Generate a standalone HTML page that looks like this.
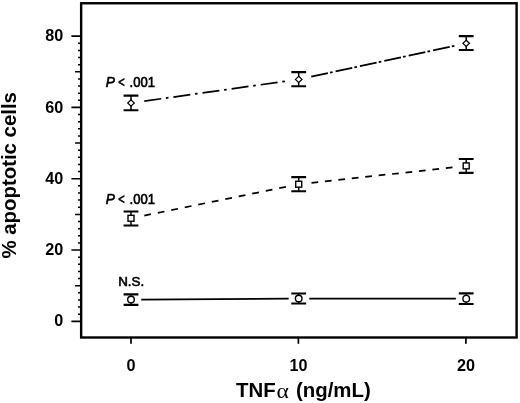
<!DOCTYPE html>
<html><head><meta charset="utf-8">
<style>
html,body{margin:0;padding:0;background:#fff;}
body{width:520px;height:403px;overflow:hidden;}
svg{display:block;filter:grayscale(1);}
text{font-family:"Liberation Sans",sans-serif;fill:#000;}
.tk{font-size:16.2px;font-weight:bold;}
.ax{font-size:20.4px;font-weight:bold;}
.an{font-size:13.8px;stroke:#000;stroke-width:0.6px;}
</style></head>
<body>
<svg width="520" height="403" viewBox="0 0 520 403">
<rect x="81.15" y="3.25" width="435.45" height="334.25" fill="none" stroke="#000" stroke-width="2.4"/>
<path d="M71.4 321.30H81.15 M71.4 250.02H81.15 M71.4 178.74H81.15 M71.4 107.46H81.15 M71.4 36.18H81.15 " stroke="#000" stroke-width="1.7" fill="none"/>
<path d="M78.05 314.17H81.15 M78.05 307.04H81.15 M78.05 299.92H81.15 M78.05 292.79H81.15 M75.05 285.66H81.15 M78.05 278.53H81.15 M78.05 271.40H81.15 M78.05 264.28H81.15 M78.05 257.15H81.15 M78.05 242.89H81.15 M78.05 235.76H81.15 M78.05 228.64H81.15 M78.05 221.51H81.15 M75.05 214.38H81.15 M78.05 207.25H81.15 M78.05 200.12H81.15 M78.05 193.00H81.15 M78.05 185.87H81.15 M78.05 171.61H81.15 M78.05 164.48H81.15 M78.05 157.36H81.15 M78.05 150.23H81.15 M75.05 143.10H81.15 M78.05 135.97H81.15 M78.05 128.84H81.15 M78.05 121.72H81.15 M78.05 114.59H81.15 M78.05 100.33H81.15 M78.05 93.20H81.15 M78.05 86.08H81.15 M78.05 78.95H81.15 M75.05 71.82H81.15 M78.05 64.69H81.15 M78.05 57.56H81.15 M78.05 50.44H81.15 M78.05 43.31H81.15 " stroke="#000" stroke-width="1.5" fill="none"/>
<path d="M131.0 337.5V343.7 M298.4 337.5V343.7 M465.9 337.5V343.7 " stroke="#000" stroke-width="1.7" fill="none"/>
<g class="tk" text-anchor="end">
<text x="63.2" y="41.28">80</text>
<text x="63.2" y="112.56">60</text>
<text x="63.2" y="183.84">40</text>
<text x="63.2" y="255.12">20</text>
<text x="63.2" y="326.40">0</text>
</g><g class="tk" text-anchor="middle">
<text x="131.0" y="370.6">0</text>
<text x="298.4" y="370.6">10</text>
<text x="465.9" y="370.6">20</text>
</g>
<text class="ax" x="236.0" y="397.3">TNF</text>
<text transform="translate(276.6,398.3) scale(1.15,1.04)" style="font-family:'Liberation Serif',serif;font-size:20.5px;">&#945;</text>
<text class="ax" x="296.0" y="397.3">(ng/mL)</text>
<text class="ax" transform="translate(16.3,258.6) rotate(-90)">% apoptotic cells</text>
<text class="an" x="105.7" y="86.6" font-style="italic">P</text>
<text class="an" transform="translate(118.2,86.6) scale(0.8,1)">&lt;</text>
<text class="an" x="129.6" y="86.6" textLength="25.4" lengthAdjust="spacingAndGlyphs">.001</text>
<text class="an" x="105.7" y="203.6" font-style="italic">P</text>
<text class="an" transform="translate(118.2,203.6) scale(0.8,1)">&lt;</text>
<text class="an" x="129.6" y="203.6" textLength="25.4" lengthAdjust="spacingAndGlyphs">.001</text>
<text class="an" x="118.2" y="286.1" style="font-size:13.4px">N.S.</text>
<path d="M144.30 101.13L161.20 98.75 M165.90 98.09L168.50 97.72 M173.40 97.03L190.30 94.65 M195.00 93.99L197.60 93.63 M202.50 92.94L219.40 90.56 M224.10 89.90L226.70 89.53 M231.60 88.84L248.50 86.46 M253.20 85.80L255.80 85.44 M260.70 84.75L277.60 82.37 M282.30 81.71L284.90 81.34 M311.20 76.71L327.90 73.11 M330.00 72.65L332.60 72.09 M335.56 71.46L352.26 67.86 M354.36 67.40L356.96 66.84 M359.92 66.21L376.62 62.61 M378.72 62.15L381.32 61.59 M384.28 60.96L400.98 57.36 M403.08 56.90L405.68 56.34 M408.64 55.71L425.34 52.11 M427.44 51.65L430.04 51.09 M433.00 50.46L449.70 46.86 M451.80 46.40L454.40 45.84 M144.30 215.60L151.00 214.23 M157.79 212.85L164.49 211.49 M171.28 210.11L177.98 208.75 M184.77 207.37L191.47 206.00 M198.26 204.62L204.96 203.26 M211.75 201.88L218.45 200.52 M225.24 199.14L231.94 197.77 M238.73 196.39L245.43 195.03 M252.22 193.65L258.92 192.29 M265.71 190.91L272.41 189.55 M279.20 188.17L285.90 186.80 M311.50 182.80L318.20 182.07 M324.93 181.33L331.63 180.60 M338.36 179.87L345.06 179.13 M351.79 178.40L358.49 177.67 M365.22 176.93L371.92 176.20 M378.65 175.47L385.35 174.73 M392.08 174.00L398.78 173.27 M405.51 172.53L412.21 171.80 M418.94 171.06L425.64 170.33 M432.37 169.60L439.07 168.86 M445.80 168.13L452.50 167.40 M141.25 299.53L288.70 298.57 M309.30 298.51L455.90 298.69" stroke="#000" stroke-width="1.75" fill="none"/>
<path d="M131.0 95.6V110.25" stroke="#000" stroke-width="1.5"/>
<path d="M123.60 95.6H138.40M123.60 110.25H138.40" stroke="#000" stroke-width="2.2"/>
<path d="M131.0 99.90L134.30 103.0L131.0 106.10L127.70 103.0Z" fill="#fff" stroke="#000" stroke-width="1.2"/>
<path d="M298.7 72.1V86.25" stroke="#000" stroke-width="1.5"/>
<path d="M291.30 72.1H306.10M291.30 86.25H306.10" stroke="#000" stroke-width="2.2"/>
<path d="M298.7 76.30L302.00 79.4L298.7 82.50L295.40 79.4Z" fill="#fff" stroke="#000" stroke-width="1.2"/>
<path d="M466.2 36.1V50.0" stroke="#000" stroke-width="1.5"/>
<path d="M458.80 36.1H473.60M458.80 50.0H473.60" stroke="#000" stroke-width="2.2"/>
<path d="M466.2 40.20L469.50 43.3L466.2 46.40L462.90 43.3Z" fill="#fff" stroke="#000" stroke-width="1.2"/>
<path d="M131.0 211.5V225.5" stroke="#000" stroke-width="1.5"/>
<path d="M123.60 211.5H138.40M123.60 225.5H138.40" stroke="#000" stroke-width="2.2"/>
<rect x="128.00" y="215.35" width="6" height="5.9" fill="#fff" stroke="#000" stroke-width="1.4"/>
<path d="M298.7 177.2V191.25" stroke="#000" stroke-width="1.5"/>
<path d="M291.30 177.2H306.10M291.30 191.25H306.10" stroke="#000" stroke-width="2.2"/>
<rect x="295.70" y="181.25" width="6" height="5.9" fill="#fff" stroke="#000" stroke-width="1.4"/>
<path d="M466.2 159.0V172.9" stroke="#000" stroke-width="1.5"/>
<path d="M458.80 159.0H473.60M458.80 172.9H473.60" stroke="#000" stroke-width="2.2"/>
<rect x="463.20" y="162.95" width="6" height="5.9" fill="#fff" stroke="#000" stroke-width="1.4"/>
<path d="M131.0 294.35V304.9" stroke="#000" stroke-width="1.5"/>
<path d="M123.60 294.35H138.40M123.60 304.9H138.40" stroke="#000" stroke-width="2.2"/>
<circle cx="131.0" cy="299.6" r="3.3" fill="#fff" stroke="#000" stroke-width="1.4"/>
<path d="M298.7 293.5V303.5" stroke="#000" stroke-width="1.5"/>
<path d="M291.30 293.5H306.10M291.30 303.5H306.10" stroke="#000" stroke-width="2.2"/>
<circle cx="298.7" cy="298.5" r="3.3" fill="#fff" stroke="#000" stroke-width="1.4"/>
<path d="M466.2 293.35V304.0" stroke="#000" stroke-width="1.5"/>
<path d="M458.80 293.35H473.60M458.80 304.0H473.60" stroke="#000" stroke-width="2.2"/>
<circle cx="466.2" cy="298.7" r="3.3" fill="#fff" stroke="#000" stroke-width="1.4"/>
</svg>
</body></html>
